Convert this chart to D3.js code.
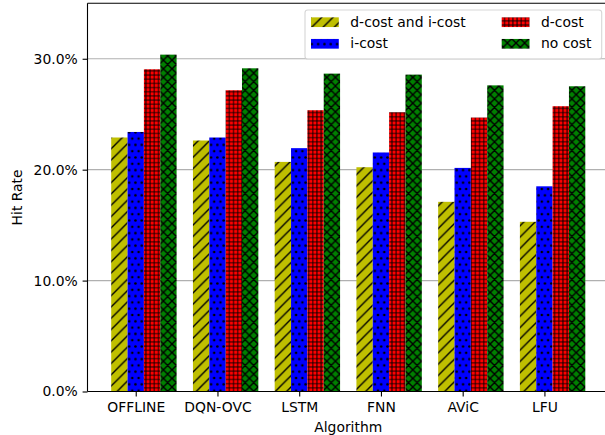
<!DOCTYPE html>
<html>
<head>
<meta charset="utf-8">
<script src="https://cdn.jsdelivr.net/npm/d3@7"></script>
<style>
  body { margin: 0; background: #fff; }
  svg { display: block; }
  text { font-family: "DejaVu Sans", sans-serif; }
</style>
</head>
<body>
<div id="chart"></div>
<script>
// Hit rate per caching algorithm under four cost settings (percent)
const algorithms = ["OFFLINE", "DQN-OVC", "LSTM", "FNN", "AViC", "LFU"];
const seriesNames = ["d-cost and i-cost", "i-cost", "d-cost", "no cost"];
const dCostAndICost = [22.9, 22.63, 20.7, 20.22, 17.1, 15.3];
const iCost = [23.4, 22.9, 21.94, 21.55, 20.16, 18.5];
const dCost = [29.05, 27.16, 25.36, 25.18, 24.7, 25.72];
const noCost = [30.37, 29.14, 28.66, 28.57, 27.6, 27.52];
const yTicks = [0, 10, 20, 30];

const seriesValues = [dCostAndICost, iCost, dCost, noCost];
const seriesColors = ["#bfbf00", "#0000ff", "#ff0000", "#008000"];
const seriesHatch = ["diag", "dots", "grid", "cross"];

const W = 605, H = 435;
const plot = { left: 87.5, top: 3.3, right: 609, bottom: 391.5 };
const fontSize = 13.9;
const hatchW = 1.39;

const svg = d3.select("#chart").append("svg")
  .attr("width", W).attr("height", H)
  .attr("viewBox", `0 0 ${W} ${H}`);

const x = d3.scaleLinear().domain([-0.59, 5.79]).range([plot.left, plot.right]);
const y = d3.scaleLinear().domain([0, 35]).range([plot.bottom, plot.top]);
const barW = 0.2;

// ---- hatch patterns ----
const defs = svg.append("defs");
function makePattern(id, color, kind) {
  let s;
  if (kind === "diag") s = 11.3;       // '///'
  else if (kind === "dots") s = 6.3;   // '...'
  else if (kind === "grid") s = 4.17;  // '++++'
  else s = 8.6;                        // 'xxxx'
  const h = kind === "dots" ? s * 2 : s;
  const p = defs.append("pattern")
    .attr("id", id)
    .attr("patternUnits", "userSpaceOnUse")
    .attr("width", s).attr("height", h);
  p.append("rect").attr("width", s).attr("height", h).attr("fill", color);
  if (kind === "diag") {
    p.append("path")
      .attr("d", `M0,${s} L${s},0 M${-s / 2},${s / 2} L${s / 2},${-s / 2} M${s / 2},${s * 1.5} L${s * 1.5},${s / 2}`)
      .attr("stroke", "#000").attr("stroke-width", hatchW).attr("fill", "none");
  } else if (kind === "cross") {
    p.append("path")
      .attr("d", `M0,${s} L${s},0 M${-s / 2},${s / 2} L${s / 2},${-s / 2} M${s / 2},${s * 1.5} L${s * 1.5},${s / 2}` +
                 ` M0,0 L${s},${s} M${-s / 2},${s / 2} L${s / 2},${s * 1.5} M${s / 2},${-s / 2} L${s * 1.5},${s / 2}`)
      .attr("stroke", "#000").attr("stroke-width", hatchW).attr("fill", "none");
  } else if (kind === "grid") {
    p.append("path")
      .attr("d", `M0,0 L${s},0 M0,0 L0,${s} M0,${s} L${s},${s} M${s},0 L${s},${s}`)
      .attr("stroke", "#000").attr("stroke-width", hatchW / 2 + 0.2).attr("fill", "none");
  } else {
    const pts = [[0, 0], [s, 0], [0, h], [s, h], [s / 2, s]];
    pts.forEach(([cx, cy]) => p.append("circle").attr("cx", cx).attr("cy", cy).attr("r", 1.3).attr("fill", "#000"));
  }
}
seriesColors.forEach((c, k) => makePattern("hatch" + k, c, seriesHatch[k]));

// ---- grid ----
svg.append("g").selectAll("line").data(yTicks).join("line")
  .attr("x1", plot.left).attr("x2", plot.right)
  .attr("y1", d => y(d)).attr("y2", d => y(d))
  .attr("stroke", "#b0b0b0").attr("stroke-width", 1.1);

// ---- bars ----
const bw = x(barW) - x(0);
seriesValues.forEach((vals, k) => {
  const off = (k - 1) * barW;
  svg.append("g").selectAll("rect").data(vals).join("rect")
    .attr("x", (d, i) => x(i + off - barW / 2))
    .attr("width", bw)
    .attr("y", d => y(d))
    .attr("height", d => y(0) - y(d))
    .attr("fill", `url(#hatch${k})`);
});

// ---- axes ----
const yAxis = d3.axisLeft(y).tickValues(yTicks)
  .tickFormat(d => d.toFixed(1) + "%")
  .tickSize(4.9).tickPadding(4.9);
const gy = svg.append("g").attr("transform", `translate(${plot.left},0)`).call(yAxis);
gy.select(".domain").remove();
gy.selectAll(".tick line").attr("stroke", "#000").attr("stroke-width", 1.1);
gy.selectAll(".tick text").attr("fill", "#000").attr("font-size", fontSize)
  .attr("font-family", "DejaVu Sans, sans-serif");

const xAxis = d3.axisBottom(x).tickValues(d3.range(algorithms.length))
  .tickFormat(i => algorithms[i])
  .tickSize(4.9).tickPadding(4.9);
const gx = svg.append("g").attr("transform", `translate(0,${plot.bottom})`).call(xAxis);
gx.select(".domain").remove();
gx.selectAll(".tick line").attr("stroke", "#000").attr("stroke-width", 1.1);
gx.selectAll(".tick text").attr("fill", "#000").attr("font-size", fontSize)
  .attr("dy", "0.77em")
  .attr("font-family", "DejaVu Sans, sans-serif");

// spines (the right one falls outside the canvas)
svg.append("line").attr("x1", plot.left).attr("x2", plot.left)
  .attr("y1", plot.top).attr("y2", plot.bottom)
  .attr("stroke", "#000").attr("stroke-width", 1.1);
svg.append("line").attr("x1", plot.left).attr("x2", plot.right)
  .attr("y1", plot.bottom).attr("y2", plot.bottom)
  .attr("stroke", "#000").attr("stroke-width", 1.1);
svg.append("line").attr("x1", plot.left).attr("x2", plot.right)
  .attr("y1", plot.top).attr("y2", plot.top)
  .attr("stroke", "#000").attr("stroke-width", 1.1);

// axis titles
svg.append("text")
  .attr("x", (plot.left + plot.right) / 2).attr("y", 431.5)
  .attr("text-anchor", "middle").attr("font-size", fontSize).attr("fill", "#000")
  .text("Algorithm");
svg.append("text")
  .attr("transform", `translate(22,${(plot.top + plot.bottom) / 2}) rotate(-90)`)
  .attr("text-anchor", "middle").attr("font-size", fontSize).attr("fill", "#000")
  .text("Hit Rate");

// ---- legend (two columns) ----
const lg = svg.append("g");
lg.append("rect")
  .attr("x", 305).attr("y", 10).attr("width", 296.7).attr("height", 49)
  .attr("rx", 2.8).attr("ry", 2.8)
  .attr("fill", "#fff").attr("fill-opacity", 0.8)
  .attr("stroke", "#cccccc").attr("stroke-opacity", 0.8).attr("stroke-width", 1.1);
const colX = [311, 501.7];
const rowY = [22.2, 43.8];
seriesNames.forEach((name, k) => {
  const c = Math.floor(k / 2), r = k % 2;
  lg.append("rect")
    .attr("x", colX[c]).attr("y", rowY[r] - 4.85)
    .attr("width", 27.8).attr("height", 9.7)
    .attr("fill", `url(#hatch${k})`);
  lg.append("text")
    .attr("x", colX[c] + 27.8 + 11.5).attr("y", rowY[r] + 4.6)
    .attr("font-size", fontSize).attr("fill", "#000")
    .text(name);
});
</script>
</body>
</html>
